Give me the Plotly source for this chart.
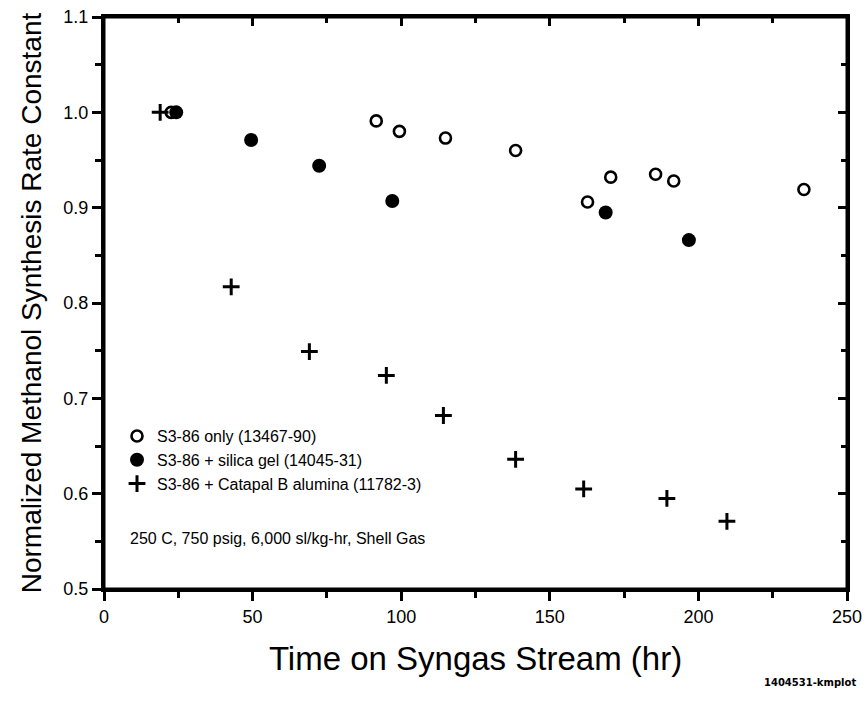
import plotly.graph_objects as go

# Data
only_x = [22.6, 91.6, 99.4, 114.9, 138.5, 162.7, 170.5, 185.6, 191.7, 235.5]
only_y = [1.000, 0.991, 0.980, 0.973, 0.960, 0.906, 0.932, 0.935, 0.928, 0.919]

silica_x = [24.3, 49.5, 72.4, 97.0, 168.8, 196.8]
silica_y = [1.000, 0.971, 0.944, 0.907, 0.895, 0.866]

catapal_x = [18.9, 42.8, 69.1, 95.0, 114.2, 138.5, 161.4, 189.4, 209.6]
catapal_y = [1.000, 0.817, 0.749, 0.724, 0.682, 0.636, 0.605, 0.595, 0.571]

names = ["S3-86 only (13467-90)",
         "S3-86 + silica gel (14045-31)",
         "S3-86 + Catapal B alumina (11782-3)"]

x_ticks = [0, 50, 100, 150, 200, 250]
y_ticks = [0.5, 0.6, 0.7, 0.8, 0.9, 1.0, 1.1]
y_ticktext = ["0.5", "0.6", "0.7", "0.8", "0.9", "1.0", "1.1"]

x_title = "Time on Syngas Stream (hr)"
y_title = "Normalized Methanol Synthesis Rate Constant"
note = "250 C, 750 psig, 6,000 sl/kg-hr, Shell Gas"
footer = "1404531-kmplot"

FONT = "Liberation Sans, Arial, sans-serif"

fig = go.Figure()
fig.add_trace(go.Scatter(x=only_x, y=only_y, mode="markers", name=names[0],
                         marker=dict(symbol="circle-open", size=11, color="black",
                                     line=dict(width=2.6, color="black"))))
fig.add_trace(go.Scatter(x=silica_x, y=silica_y, mode="markers", name=names[1],
                         marker=dict(symbol="circle", size=14, color="black",
                                     line=dict(width=0))))
fig.add_trace(go.Scatter(x=catapal_x, y=catapal_y, mode="markers", name=names[2],
                         marker=dict(symbol="cross-thin", size=12, color="black",
                                     line=dict(width=3, color="black"))))
# invisible trace to anchor the mirrored (inner-tick) axes
fig.add_trace(go.Scatter(x=[0], y=[0.5], xaxis="x2", yaxis="y2", mode="markers",
                         marker=dict(opacity=0), showlegend=False, hoverinfo="skip"))

common = dict(showgrid=False, zeroline=False, showline=True, linecolor="black",
              linewidth=3, tickcolor="black", tickwidth=2.5, automargin=False,
              autorange=False)

fig.update_layout(
    width=868, height=720,
    margin=dict(l=104, r=21, t=17, b=131),
    paper_bgcolor="white", plot_bgcolor="white",
    font=dict(family=FONT, color="black"),
    showlegend=True,
    legend=dict(x=0.0175, y=0.297, xanchor="left", yanchor="top",
                bgcolor="rgba(0,0,0,0)", font=dict(size=16, family=FONT),
                tracegroupgap=0, itemsizing="trace"),
    xaxis=dict(range=[0, 250], tickvals=x_ticks,
               ticks="outside", ticklen=9,
               minor=dict(ticks="outside", dtick=25, ticklen=6, tickwidth=2.5, tickcolor="black"),
               tickfont=dict(size=18, family=FONT),
               title=dict(text=x_title, font=dict(size=33, family=FONT), standoff=22),
               **common),
    yaxis=dict(range=[0.5, 1.1], tickvals=y_ticks, ticktext=y_ticktext,
               ticks="outside", ticklen=9,
               minor=dict(ticks="outside", dtick=0.05, ticklen=6, tickwidth=2.5, tickcolor="black"),
               tickfont=dict(size=18, family=FONT),
               title=dict(text=y_title, font=dict(size=28, family=FONT), standoff=14),
               **common),
    xaxis2=dict(overlaying="x", side="top", anchor="y", range=[0, 250],
                tickvals=x_ticks, ticks="inside", ticklen=9,
                minor=dict(ticks="inside", dtick=25, ticklen=6, tickwidth=2.5, tickcolor="black"),
                showticklabels=False, **common),
    yaxis2=dict(overlaying="y", side="right", anchor="x", range=[0.5, 1.1],
                tickvals=y_ticks, ticks="inside", ticklen=9,
                minor=dict(ticks="inside", dtick=0.05, ticklen=6, tickwidth=2.5, tickcolor="black"),
                showticklabels=False, **common),
    shapes=[dict(type="rect", xref="paper", yref="paper", x0=0, y0=0, x1=1, y1=1,
                 line=dict(color="black", width=3), layer="above")],
    annotations=[
        dict(text=note, xref="paper", yref="paper", x=0.032, y=0.089,
             xanchor="left", yanchor="middle", showarrow=False,
             font=dict(size=16, family=FONT, color="black")),
        dict(text="<b>" + footer + "</b>", xref="paper", yref="paper", x=1.015, y=-0.164,
             xanchor="right", yanchor="middle", showarrow=False,
             font=dict(size=10, family="DejaVu Sans, sans-serif", color="black")),
    ],
)

fig.write_html("out.html")
